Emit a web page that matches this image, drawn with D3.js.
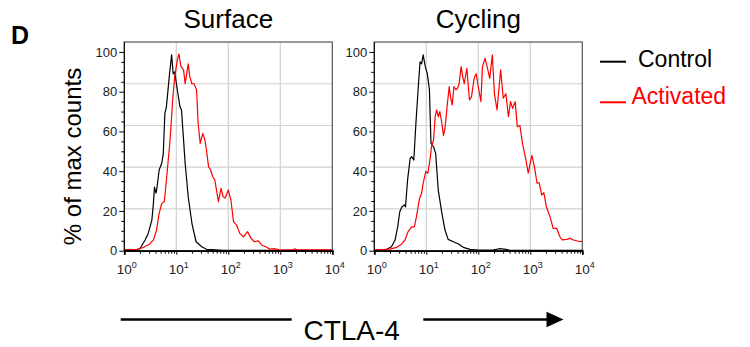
<!DOCTYPE html>
<html>
<head>
<meta charset="utf-8">
<script src="https://cdn.jsdelivr.net/npm/d3@7"></script>
<style>
  body { margin: 0; background: #fff; }
  svg { display: block; font-family: "Liberation Sans", Arial, Helvetica, sans-serif; }
</style>
</head>
<body>
<div id="chart"></div>
<script>
// Flow histograms of CTLA-4, x = log10 fluorescence, y = % of max counts

const panels = ['Surface', 'Cycling'];
const seriesNames = ['Control', 'Activated'];
const seriesColors = ['#000000', '#ff0000'];
const yTicks = [0, 20, 40, 60, 80, 100];
const xDecades = [0, 1, 2, 3, 4];

// Surface / Control
const surfCtrlE = [0, 0.2, 0.30, 0.40, 0.46, 0.53, 0.56, 0.58, 0.61, 0.63, 0.67, 0.72, 0.75, 0.78, 0.81, 0.87, 0.91, 0.94, 0.97, 1.01, 1.07, 1.10, 1.17, 1.23, 1.30, 1.38, 1.49, 1.58, 1.75, 1.9, 2.5, 3.2, 4];
const surfCtrlV = [0, 0.3, 1, 5.4, 8.7, 15.4, 23.8, 32, 29, 32, 40.6, 44, 49, 69, 72.5, 89, 98.5, 89, 90, 82.5, 72.5, 70.8, 44, 27, 13.8, 4.5, 2, 0.7, 0.4, 0.2, 0.2, 0.2, 0.2];

// Surface / Activated
const surfActE = [0, 0.24, 0.37, 0.49, 0.56, 0.62, 0.67, 0.72, 0.77, 0.81, 0.88, 0.93, 0.97, 1.02, 1.05, 1.09, 1.14, 1.17, 1.20, 1.23, 1.26, 1.30, 1.34, 1.39, 1.42, 1.46, 1.51, 1.55, 1.58, 1.62, 1.66, 1.70, 1.74, 1.81, 1.86, 1.90, 1.94, 2.00, 2.05, 2.10, 2.16, 2.22, 2.29, 2.37, 2.44, 2.50, 2.58, 2.64, 2.74, 2.80, 2.90, 3.0, 3.24, 3.28, 3.32, 4];
const surfActV = [0.5, 0.6, 1.7, 3.4, 5.4, 10.4, 18.8, 23.8, 24.7, 35.6, 55.7, 75.8, 87.6, 96, 99, 92.6, 91, 84, 89, 94, 87.6, 84, 84, 81, 64, 54, 59, 55.7, 50.7, 42.3, 40.6, 37.2, 35.6, 24.7, 31.4, 27.2, 26.5, 30.5, 25.5, 14.6, 12.9, 8.7, 7, 9.6, 6.2, 4.5, 4.9, 2.9, 1.7, 0.8, 1, 0.3, 0.4, 1, 0.4, 0.4];

// Cycling / Control
const cycCtrlE = [0, 0.24, 0.33, 0.40, 0.45, 0.49, 0.53, 0.58, 0.60, 0.64, 0.69, 0.72, 0.76, 0.80, 0.85, 0.88, 0.91, 0.94, 0.98, 1.02, 1.06, 1.09, 1.14, 1.18, 1.23, 1.30, 1.36, 1.42, 1.52, 1.62, 1.71, 1.84, 2.0, 2.3, 2.4, 2.5, 2.6, 4];
const cycCtrlV = [0.3, 0.7, 2, 5.4, 12, 19.6, 22, 23, 22, 35.6, 46.5, 47.3, 45.6, 64, 84, 95, 94, 98.5, 92.6, 89, 81, 54, 52.3, 49, 30.5, 18.8, 10.4, 5.7, 4.5, 3.4, 1.7, 0.7, 0.3, 0.4, 1, 0.8, 0.3, 0.2];

// Cycling / Activated
const cycActE = [0, 0.30, 0.43, 0.53, 0.59, 0.65, 0.72, 0.77, 0.81, 0.87, 0.91, 0.94, 0.99, 1.03, 1.07, 1.10, 1.14, 1.17, 1.20, 1.23, 1.26, 1.30, 1.33, 1.36, 1.40, 1.44, 1.47, 1.50, 1.53, 1.57, 1.60, 1.63, 1.67, 1.70, 1.73, 1.78, 1.83, 1.87, 1.92, 1.96, 1.99, 2.05, 2.08, 2.13, 2.17, 2.22, 2.27, 2.31, 2.36, 2.43, 2.48, 2.53, 2.58, 2.62, 2.66, 2.71, 2.75, 2.80, 2.85, 2.91, 2.96, 3.03, 3.08, 3.13, 3.17, 3.22, 3.26, 3.31, 3.38, 3.44, 3.51, 3.57, 3.61, 3.70, 3.76, 3.83, 3.89, 3.96, 4.0];
const cycActV = [0.3, 0.8, 1.7, 3.4, 5.4, 9.6, 12, 12, 17, 26.3, 29, 34, 39.8, 39, 45.6, 52.3, 55.7, 67.4, 70.8, 67.4, 70, 64, 58, 61.6, 72.5, 82.5, 76.7, 73.3, 82.5, 81, 81.7, 84, 92.6, 87.6, 84, 91.8, 75.8, 77.5, 86.7, 89, 84, 75, 92.6, 96.8, 92.6, 86.7, 98.5, 79, 70.8, 91, 76.7, 79, 67.4, 75, 71.6, 75, 62.4, 63, 54, 46.5, 39, 48, 42, 34, 34.2, 28, 29.2, 22, 17, 11.2, 11.2, 7, 5.4, 5.7, 6.2, 5.4, 5, 4.5, 4.9];

const panelData = [
  [[surfCtrlE, surfCtrlV], [surfActE, surfActV]],
  [[cycCtrlE, cycCtrlV], [cycActE, cycActV]]
];

const W = 750, H = 347;
const panelLeft = [124.3, 374.3];
const pw = 208, plotTop = 42, plotBottom = 250.7;

const svg = d3.select('#chart').append('svg')
  .attr('width', W).attr('height', H);

const y = d3.scaleLinear().domain([0, 105]).range([plotBottom, plotTop]);

panels.forEach((name, p) => {
  const x = d3.scaleLog().domain([1, 1e4]).range([panelLeft[p], panelLeft[p] + pw]);
  const g = svg.append('g');

  // grid: vertical at decades, horizontal at fifths of the frame
  g.selectAll('.vg').data([10, 100, 1000]).enter().append('line')
    .attr('x1', d => x(d)).attr('x2', d => x(d))
    .attr('y1', plotTop).attr('y2', plotBottom)
    .attr('stroke', '#d2d2d2').attr('stroke-width', 1.2);
  g.selectAll('.hg').data([21, 42, 63, 84]).enter().append('line')
    .attr('x1', x(1)).attr('x2', x(1e4))
    .attr('y1', d => y(d)).attr('y2', d => y(d))
    .attr('stroke', '#d2d2d2').attr('stroke-width', 1.2);

  // frame
  g.append('rect')
    .attr('x', x(1)).attr('y', plotTop)
    .attr('width', pw).attr('height', plotBottom - plotTop)
    .attr('fill', 'none').attr('stroke', '#555').attr('stroke-width', 1.2);

  // curves, activated drawn last
  const line = d3.line()
    .x(d => x(Math.pow(10, d[0])))
    .y(d => y(d[1]));
  panelData[p].forEach((s, i) => {
    const pts = s[0].map((e, k) => [e, s[1][k]]);
    g.append('path').datum(pts)
      .attr('d', line)
      .attr('fill', 'none')
      .attr('stroke', seriesColors[i])
      .attr('stroke-width', 1.2)
      .attr('stroke-linejoin', 'round');
  });

  // y axis, major and minor ticks
  const minorY = d3.range(0, 101, 5).filter(v => v % 20 !== 0);
  g.append('g')
    .attr('transform', `translate(${x(1)},0)`)
    .call(d3.axisLeft(y).tickValues(minorY).tickSize(3).tickFormat(''))
    .call(a => a.select('.domain').remove());
  g.append('g')
    .attr('transform', `translate(${x(1)},0)`)
    .call(d3.axisLeft(y).tickValues(yTicks).tickSize(5).tickPadding(2))
    .call(a => a.select('.domain').attr('d', `M0,${plotBottom}V${plotTop}`))
    .call(a => a.selectAll('text').attr('font-size', 13)
      .attr('font-family', '"Liberation Sans", Arial, sans-serif').attr('fill', '#222'));

  // x axis, log ticks
  const minorX = [];
  [1, 10, 100, 1000].forEach(d => [2, 3, 4, 5, 6, 7, 8, 9].forEach(m => minorX.push(d * m)));
  g.append('g')
    .attr('transform', `translate(0,${plotBottom})`)
    .call(d3.axisBottom(x).tickValues(minorX).tickSize(3).tickFormat(''))
    .call(a => a.select('.domain').remove());
  const xa = g.append('g')
    .attr('transform', `translate(0,${plotBottom})`)
    .call(d3.axisBottom(x).tickValues(xDecades.map(e => Math.pow(10, e))).tickSize(4).tickFormat(''));
  xa.select('.domain').attr('stroke-width', 1.8);

  xDecades.forEach(e => {
    const t = g.append('text')
      .attr('x', x(Math.pow(10, e)) - 7.5).attr('y', 273.5)
      .attr('font-size', 13.5).attr('fill', '#222');
    t.append('tspan').text('10');
    t.append('tspan').attr('dy', -6).attr('font-size', 9).text(e);
  });

  // panel title
  svg.append('text')
    .attr('x', x(1) + pw / 2).attr('y', 28)
    .attr('text-anchor', 'middle')
    .attr('font-size', 26)
    .text(name);
});

// panel letter
svg.append('text')
  .attr('x', 11).attr('y', 44)
  .attr('font-size', 25).attr('font-weight', 'bold')
  .text('D');

// y label
svg.append('text')
  .attr('transform', 'translate(81,156.5) rotate(-90)')
  .attr('text-anchor', 'middle')
  .attr('font-size', 24)
  .text('% of max counts');

// legend
seriesNames.forEach((n, i) => {
  const ly = [61.7, 102.3][i];
  svg.append('line')
    .attr('x1', 600).attr('x2', 626).attr('y1', ly).attr('y2', ly)
    .attr('stroke', seriesColors[i]).attr('stroke-width', 2);
  svg.append('text')
    .attr('x', [638, 631.5][i]).attr('y', [66.7, 103.5][i])
    .attr('font-size', 23)
    .attr('fill', seriesColors[i])
    .text(n);
});

// CTLA-4 arrow
svg.append('line')
  .attr('x1', 120.7).attr('x2', 291.7).attr('y1', 319.5).attr('y2', 319.5)
  .attr('stroke', '#000').attr('stroke-width', 2.7);
svg.append('line')
  .attr('x1', 423.3).attr('x2', 548).attr('y1', 319.5).attr('y2', 319.5)
  .attr('stroke', '#000').attr('stroke-width', 2.7);
svg.append('path')
  .attr('d', 'M546.5,311.8L563.5,319.5L546.5,327.2Z')
  .attr('fill', '#000');
svg.append('text')
  .attr('x', 351.7).attr('y', 340)
  .attr('text-anchor', 'middle')
  .attr('font-size', 28)
  .text('CTLA-4');
</script>
</body>
</html>
